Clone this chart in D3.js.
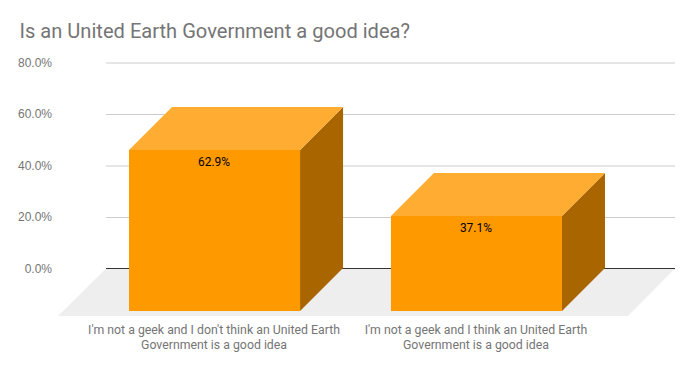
<!DOCTYPE html>
<html>
<head>
<meta charset="utf-8">
<script src="https://cdnjs.cloudflare.com/ajax/libs/d3/7.8.5/d3.min.js"></script>
<style>
	html, body {margin: 0; padding: 0; background: #fff;}
	svg {display: block; font-family: Roboto, sans-serif;}
	.y-axis .domain {display: none;}
	.y-axis line {stroke: #ccc;}
	.y-axis text {fill: #757575; font-size: 12px;}
</style>
</head>
<body>
<svg id="chart" width="694" height="371"></svg>
<script>
const categories = [
	["I'm not a geek and I don't think an United Earth", "Government is a good idea"],
	["I'm not a geek and I think an United Earth", "Government is a good idea"]
];
const values = [62.9, 37.1];
const yTicks = [0, 20, 40, 60, 80];

const svg = d3.select("#chart");
const depth = 43; // 3d offset of the front plane from the back wall

const x = d3.scaleBand()
	.domain(d3.range(categories.length))
	.range([172, 605])
	.paddingInner(0.347);
const y = d3.scaleLinear().domain([0, 80]).range([268.5, 62.5]);

svg.append("text")
	.attr("x", 19.5)
	.attr("y", 38)
	.attr("fill", "#757575")
	.style("font-size", "20.1px")
	.text("Is an United Earth Government a good idea?");

svg.append("g")
	.attr("class", "y-axis")
	.attr("transform", "translate(106,0)")
	.call(d3.axisLeft(y)
		.tickValues(yTicks)
		.tickSize(-569)
		.tickPadding(54)
		.tickFormat(d => d.toFixed(1) + "%"));

// floor
svg.append("path")
	.attr("d", d3.line()([[106, y(0)], [675, y(0)], [628, 316], [58, 316]]))
	.attr("fill", "#eeeeee");

svg.append("line")
	.attr("x1", 106)
	.attr("x2", 675)
	.attr("y1", y(0))
	.attr("y2", y(0))
	.attr("stroke", "#333");

const bars = svg.selectAll("g.bar")
	.data(values)
	.enter().append("g")
	.attr("class", "bar");

const w = x.bandwidth();
const base = Math.floor(y(0));
const top3d = d => Math.ceil(y(d)); // snap the bar tops to whole pixels

// right side
bars.append("path")
	.attr("fill", "#a86500")
	.attr("d", (d, i) => {
		const r = x(i) + w;
		return d3.line()([[r, top3d(d)], [r, base], [r - depth, base + depth], [r - depth, top3d(d) + depth]]);
	});

// top
bars.append("path")
	.attr("fill", "#ffac33")
	.attr("d", (d, i) => {
		const l = x(i);
		return d3.line()([[l, top3d(d)], [l + w, top3d(d)], [l + w - depth, top3d(d) + depth], [l - depth, top3d(d) + depth]]);
	});

// front
bars.append("rect")
	.attr("fill", "#ff9900")
	.attr("x", (d, i) => x(i) - depth)
	.attr("y", d => top3d(d) + depth)
	.attr("width", w)
	.attr("height", d => base - top3d(d));

bars.append("text")
	.attr("x", (d, i) => x(i) - depth + w / 2 - 0.5)
	.attr("y", d => top3d(d) + depth + 16)
	.attr("text-anchor", "middle")
	.attr("fill", "#000")
	.style("font-size", "12px")
	.text(d => d.toFixed(1) + "%");

svg.selectAll("text.cat")
	.data(categories)
	.enter().append("text")
	.attr("class", "cat")
	.attr("text-anchor", "middle")
	.attr("fill", "#757575")
	.style("font-size", "12.3px")
	.selectAll("tspan")
	.data((d, i) => d.map(t => ({t: t, i: i})))
	.enter().append("tspan")
	.attr("x", d => x(d.i) - depth + w / 2 - 0.5)
	.attr("y", (d, j) => 334 + j * 15)
	.text(d => d.t);
</script>
</body>
</html>
